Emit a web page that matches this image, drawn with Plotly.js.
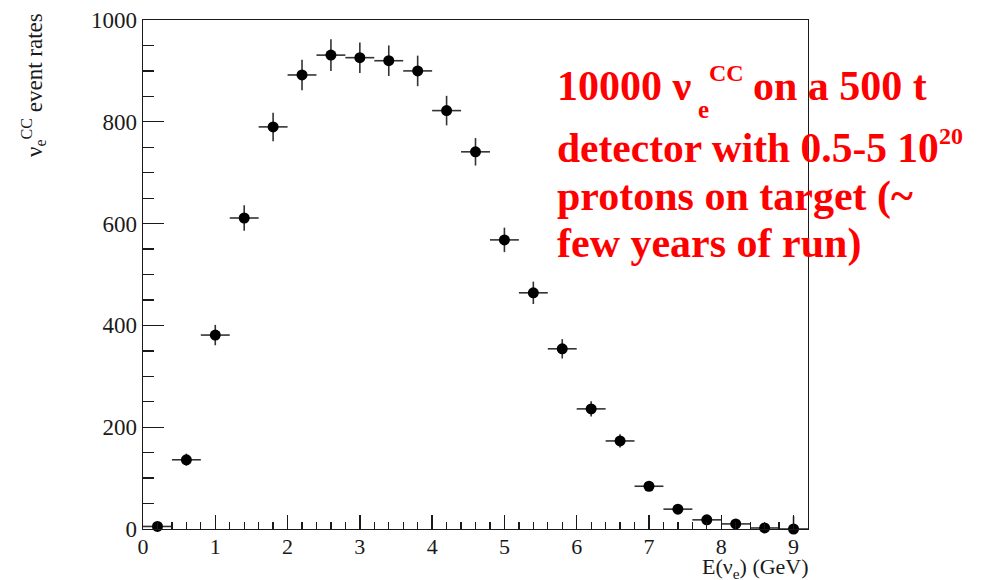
<!DOCTYPE html>
<html>
<head>
<meta charset="utf-8">
<script src="https://cdn.plot.ly/plotly-3.0.1.min.js"></script>
<style>html,body{margin:0;padding:0;background:#fff;}#chart{width:990px;height:580px;}</style>
</head>
<body>
<div id="chart"></div>
<script>
// ---- data ----
const energy = [0.2, 0.6, 1.0, 1.4, 1.8, 2.2, 2.6, 3.0, 3.4, 3.8, 4.2, 4.6, 5.0, 5.4, 5.8, 6.2, 6.6, 7.0, 7.4, 7.8, 8.2, 8.6, 9.0];
const rates  = [5, 136, 381, 611, 790, 892, 931, 926, 920, 900, 822, 741, 568, 464, 354, 236, 173, 84, 39, 18, 10, 2, 0];
const errUp  = [2, 12, 20, 25, 28, 30, 31, 30, 30, 30, 29, 27, 24, 22, 19, 15, 13, 9, 6, 4, 3, 2, 25];
const errDn  = [2, 12, 20, 25, 28, 30, 31, 30, 30, 30, 29, 27, 24, 22, 19, 15, 13, 9, 6, 4, 3, 2, 0];
const binHalfWidth = 0.2;

const xTitle = 'E(ν<sub>e</sub>) (GeV)';
const yTitle = 'ν<sub>e</sub><sup>CC</sup> event rates';
const noteLine1a = '10000 ν';
const noteLine1sub = 'e';
const noteLine1sup = 'CC';
const noteLine1b = 'on a 500 t';
const noteLine2 = 'detector with 0.5-5 10';
const noteLine2sup = '20';
const noteLine3 = 'protons on target (~';
const noteLine4 = 'few years of run)';

// ---- layout helpers (pixel -> paper) ----
const L = 143, R = 808, T = 20, B = 529;
const px = p => (p - L) / (R - L);
const py = p => (B - p) / (B - T);

const serif = '"Liberation Serif", "Times New Roman", Times, serif';
const ink = '#1a1a1a';
const red = '#ff0000';

const trace = {
  type: 'scatter',
  mode: 'markers',
  x: energy,
  y: rates,
  cliponaxis: false,
  marker: {color: '#000', size: 11},
  error_x: {type: 'constant', value: binHalfWidth, width: 0, color: '#333', thickness: 1.6},
  error_y: {type: 'data', array: errUp, arrayminus: errDn, symmetric: false, width: 0, color: '#333', thickness: 1.6},
  hoverinfo: 'x+y'
};

function note(text, xp, yp, size, anchor) {
  return {
    text: text, xref: 'paper', yref: 'paper', x: px(xp), y: py(yp),
    xanchor: anchor || 'left', yanchor: 'middle', showarrow: false,
    borderpad: 0, borderwidth: 0,
    font: {family: serif, size: size, color: red, weight: 'bold'}
  };
}

const layout = {
  width: 990, height: 580,
  margin: {l: L, r: 990 - R, t: T, b: 580 - B},
  paper_bgcolor: '#fff', plot_bgcolor: '#fff',
  showlegend: false,
  font: {family: serif, color: ink},
  xaxis: {
    range: [0, 9.2], tick0: 0, dtick: 1,
    ticks: 'inside', ticklen: 14, tickwidth: 1.3, tickcolor: ink,
    showline: true, mirror: true, linecolor: ink, linewidth: 1.3,
    showgrid: false, zeroline: false, ticklabelstandoff: -3,
    tickfont: {family: serif, size: 22, color: ink},
    minor: {dtick: 0.2, ticks: 'inside', ticklen: 7, tickwidth: 1.3, tickcolor: ink, showgrid: false}
  },
  yaxis: {
    range: [0, 1000], tick0: 0, dtick: 200,
    ticks: 'inside', ticklen: 21, tickwidth: 1.3, tickcolor: ink,
    showline: true, mirror: true, linecolor: ink, linewidth: 1.3,
    showgrid: false, zeroline: false,
    tickfont: {family: serif, size: 23, color: ink},
    minor: {dtick: 50, ticks: 'inside', ticklen: 11, tickwidth: 1.3, tickcolor: ink, showgrid: false}
  },
  annotations: [
    {text: xTitle, xref: 'paper', yref: 'paper', x: px(810), y: py(568), xanchor: 'right', yanchor: 'middle',
     showarrow: false, borderpad: 0, font: {family: serif, size: 22, color: ink}},
    {text: yTitle, xref: 'paper', yref: 'paper', x: px(34), y: py(12), xanchor: 'center', yanchor: 'top',
     textangle: -90, showarrow: false, borderpad: 0, font: {family: serif, size: 23, color: ink}},
    note(noteLine1a, 557, 86, 42),
    note(noteLine1sub, 698, 110, 25),
    note(noteLine1sup, 709, 73, 24),
    note(noteLine1b, 753, 86, 42),
    note(noteLine2, 557, 148, 41.5),
    note(noteLine2sup, 939, 136, 24),
    note(noteLine3, 557, 196, 42),
    note(noteLine4, 557, 244, 42)
  ]
};

Plotly.newPlot('chart', [trace], layout, {displayModeBar: false, staticPlot: true});
</script>
</body>
</html>
